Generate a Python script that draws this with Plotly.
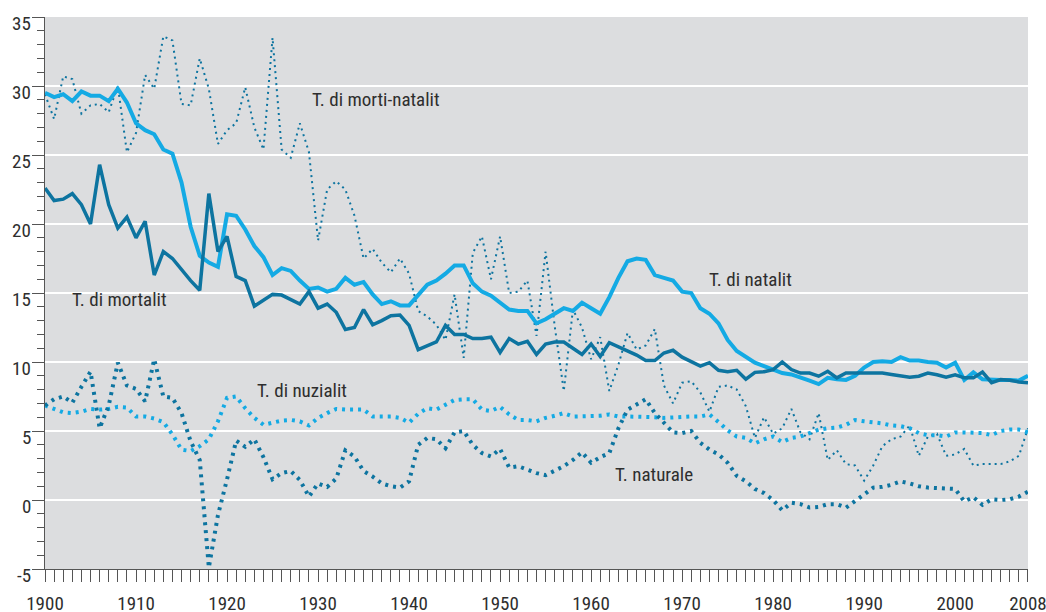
import plotly.graph_objects as go

years = list(range(1900, 2009))

natalita = [29.5, 29.2, 29.4, 28.9, 29.6, 29.3, 29.3, 28.9, 29.8, 28.8,
            27.3, 26.8, 26.5, 25.4, 25.1, 23.0, 19.8, 17.7, 17.2, 16.9,
            20.7, 20.6, 19.6, 18.4, 17.6, 16.3, 16.8, 16.6, 15.9, 15.3,
            15.4, 15.1, 15.3, 16.1, 15.6, 15.8, 14.9, 14.2, 14.4, 14.1,
            14.1, 14.8, 15.6, 15.9, 16.4, 17.0, 17.0, 15.7, 15.1, 14.8,
            14.3, 13.8, 13.7, 13.7, 12.8, 13.1, 13.5, 13.9, 13.7, 14.3,
            13.9, 13.5, 14.7, 16.1, 17.3, 17.5, 17.4, 16.3, 16.1, 15.9,
            15.1, 15.0, 13.9, 13.5, 12.8, 11.6, 10.8, 10.4, 9.95, 9.7,
            9.45, 9.2, 9.1, 8.9, 8.65, 8.4, 8.85, 8.75, 8.7, 9.0,
            9.6, 10.0, 10.05, 10.0, 10.35, 10.1, 10.1, 10.0, 9.95, 9.6,
            9.95, 8.7, 9.25, 8.75, 8.7, 8.7, 8.7, 8.65, 9.0]

mortalita = [22.6, 21.7, 21.8, 22.2, 21.4, 20.0, 24.3, 21.4, 19.7, 20.5,
             19.0, 20.2, 16.3, 18.0, 17.5, 16.7, 15.9, 15.2, 22.2, 18.0,
             19.1, 16.2, 15.9, 14.05, 14.5, 14.9, 14.85, 14.5, 14.2, 15.1,
             13.9, 14.2, 13.6, 12.35, 12.5, 13.8, 12.7, 13.0, 13.35, 13.4,
             12.65, 10.9, 11.15, 11.45, 12.65, 12.0, 12.0, 11.7, 11.7, 11.8,
             10.7, 11.7, 11.3, 11.5, 10.55, 11.3, 11.45, 11.45, 11.0, 10.55,
             11.3, 10.4, 11.4, 11.1, 10.85, 10.5, 10.1, 10.1, 10.65, 10.85,
             10.35, 10.0, 9.7, 9.95, 9.4, 9.3, 9.4, 8.75, 9.25, 9.3,
             9.45, 10.0, 9.45, 9.2, 9.2, 8.97, 9.33, 8.85, 9.2, 9.2,
             9.2, 9.2, 9.2, 9.1, 9.0, 8.9, 8.97, 9.2, 9.07, 8.9,
             9.07, 8.85, 8.85, 9.27, 8.5, 8.73, 8.68, 8.55, 8.5]

morti_natalita = [29.4, 27.6, 30.7, 30.5, 28.0, 28.6, 28.7, 28.1, 30.0, 25.2,
                  26.6, 30.8, 29.8, 33.6, 33.3, 28.7, 28.6, 32.0, 29.8, 25.8,
                  26.8, 27.3, 29.9, 27.0, 25.4, 33.5, 25.4, 24.8, 27.3, 25.2,
                  18.8, 22.5, 23.1, 22.5, 20.6, 17.5, 18.2, 17.2, 16.5, 17.5,
                  16.4, 13.7, 13.3, 12.7, 11.6, 14.9, 10.3, 17.9, 19.1, 16.0,
                  19.1, 15.0, 15.1, 15.9, 11.9, 18.0, 12.6, 7.9, 13.8, 12.5,
                  10.2, 11.8, 7.9, 9.8, 12.1, 10.9, 11.2, 12.4, 8.3, 7.0,
                  8.5, 8.6, 7.8, 6.4, 8.2, 8.3, 8.0, 6.8, 4.5, 6.0,
                  4.8, 5.2, 6.6, 4.9, 4.4, 6.3, 2.9, 3.6, 2.6, 2.5,
                  1.4, 2.5, 3.9, 4.4, 4.6, 5.4, 3.2, 4.6, 4.8, 3.2,
                  3.3, 3.7, 2.5, 2.6, 2.6, 2.6, 2.8, 3.2, 5.2]

nuzialita = [6.85, 6.6, 6.35, 6.3, 6.4, 6.6, 6.55, 6.6, 6.75, 6.7,
             6.05, 6.05, 5.9, 5.65, 4.75, 3.65, 3.55, 3.9, 4.4, 5.7,
             7.4, 7.5, 6.65, 5.95, 5.45, 5.6, 5.75, 5.8, 5.7, 5.4,
             5.95, 6.3, 6.6, 6.55, 6.55, 6.55, 6.05, 6.05, 6.05, 5.95,
             5.6, 6.25, 6.65, 6.55, 6.9, 7.25, 7.3, 7.3, 6.55, 6.45,
             6.75, 6.2, 5.8, 5.8, 5.7, 5.95, 6.1, 6.3, 6.05, 6.05,
             6.1, 6.1, 6.2, 6.05, 6.05, 6.05, 6.05, 6.0, 5.95, 6.0,
             6.05, 6.05, 6.05, 6.2, 5.65, 5.05, 4.6, 4.5, 4.1, 4.4,
             4.6, 4.2, 4.5, 4.6, 4.85, 5.1, 5.2, 5.25, 5.45, 5.8,
             5.7, 5.65, 5.55, 5.4, 5.35, 5.2, 4.85, 4.7, 4.7, 4.6,
             4.9, 4.9, 4.9, 4.85, 4.7, 5.0, 5.1, 5.1, 4.9]

naturale = [6.85, 7.3, 7.5, 7.05, 8.2, 9.3, 5.2, 6.85, 9.95, 8.3,
            8.05, 7.15, 10.2, 7.5, 7.4, 6.3, 4.25, 2.9, -4.9, -1.1,
            1.5, 4.3, 3.85, 4.4, 3.1, 1.5, 1.95, 2.1, 1.45, 0.25,
            1.2, 0.95, 1.55, 3.6, 3.15, 2.1, 1.7, 1.2, 1.0, 0.9,
            1.35, 4.0, 4.5, 4.4, 3.75, 4.9, 5.0, 4.0, 3.4, 3.15,
            3.7, 2.35, 2.45, 2.2, 1.95, 1.8, 2.1, 2.45, 2.9, 3.45,
            2.7, 3.1, 3.4, 5.2, 6.55, 6.95, 7.3, 6.3, 5.55, 4.9,
            4.85, 5.0, 4.15, 3.65, 3.3, 2.7, 1.75, 1.35, 0.8, 0.5,
            0.0, -0.75, -0.2, -0.3, -0.55, -0.5, -0.3, -0.3, -0.55, -0.1,
            0.4, 0.9, 0.95, 1.1, 1.35, 1.2, 1.0, 0.9, 0.85, 0.8,
            0.8, -0.1, 0.2, -0.35, 0.05, 0.0, 0.05, 0.25, 0.6]

x_labels = [str(y) if (y % 10 == 0 or y == 2008) else "" for y in years]
y_ticks = [-5, 0, 5, 10, 15, 20, 25, 30, 35]

LIGHT = "#14AAE4"
DARK = "#0D74A0"
FONT = "Roboto Condensed, Liberation Sans Narrow, Roboto, sans-serif"
TXT = "#2e2e2e"

fig = go.Figure()
fig.add_trace(go.Scatter(x=years, y=morti_natalita, mode="lines",
                         line=dict(color=DARK, width=2, dash="2px,4px"),
                         name="T. di morti-natalità"))
fig.add_trace(go.Scatter(x=years, y=nuzialita, mode="lines",
                         line=dict(color=LIGHT, width=4, dash="3px,5px"),
                         name="T. di nuzialità"))
fig.add_trace(go.Scatter(x=years, y=naturale, mode="lines",
                         line=dict(color=DARK, width=4, dash="3px,5px"),
                         name="T. naturale"))
fig.add_trace(go.Scatter(x=years, y=natalita, mode="lines",
                         line=dict(color=LIGHT, width=4),
                         name="T. di natalità"))
fig.add_trace(go.Scatter(x=years, y=mortalita, mode="lines",
                         line=dict(color=DARK, width=3.5),
                         name="T. di mortalità"))

labels = [
    ("T. di morti-natalit", 1929.1, 29.0),
    ("T. di mortalit", 1902.75, 14.5),
    ("T. di natalit", 1972.75, 16.0),
    ("T. di nuzialit", 1923.1, 7.95),
    ("T. naturale", 1962.4, 1.85),
]
for text, xx, yy in labels:
    fig.add_annotation(x=xx, y=yy, xref="x", yref="y", text=text, showarrow=False,
                       xanchor="left", yanchor="middle",
                       font=dict(family=FONT, size=19, color=TXT))

# y tick labels, hung slightly below their ticks as in the original
for v in y_ticks:
    fig.add_annotation(x=0, xref="paper", y=v, yref="y", text=str(v), showarrow=False,
                       xanchor="right", yanchor="middle", xshift=-12, yshift=-6,
                       font=dict(family=FONT, size=19, color=TXT))

fig.update_layout(
    width=1046, height=612,
    margin=dict(l=45, r=18, t=17, b=43, autoexpand=False),
    paper_bgcolor="white",
    plot_bgcolor="#DCDDDF",
    showlegend=False,
    font=dict(family=FONT, size=19, color=TXT),
)
fig.update_xaxes(
    range=[1899.999, 2008.001], tickmode="array", tickvals=years, ticktext=x_labels,
    ticks="outside", ticklen=12, tickwidth=1, tickcolor="#555",
    showline=True, linecolor="#555", linewidth=1, showgrid=False, zeroline=False,
    ticklabelstandoff=5, automargin=False, ticklabeloverflow="allow",
)
fig.update_yaxes(
    range=[-5, 35], tickmode="array", tickvals=y_ticks, showticklabels=False,
    ticks="outside", ticklen=12, tickwidth=1, tickcolor="#555",
    showline=True, linecolor="#555", linewidth=1,
    showgrid=True, gridcolor="white", gridwidth=1.5, zeroline=False, automargin=False,
    minor=dict(dtick=1, tick0=0, ticks="outside", ticklen=7, tickcolor="#555", showgrid=False),
)

fig.write_html("out.html", config={"displayModeBar": False},
               post_script="document.body.style.margin='0';document.body.style.overflow='hidden';")
